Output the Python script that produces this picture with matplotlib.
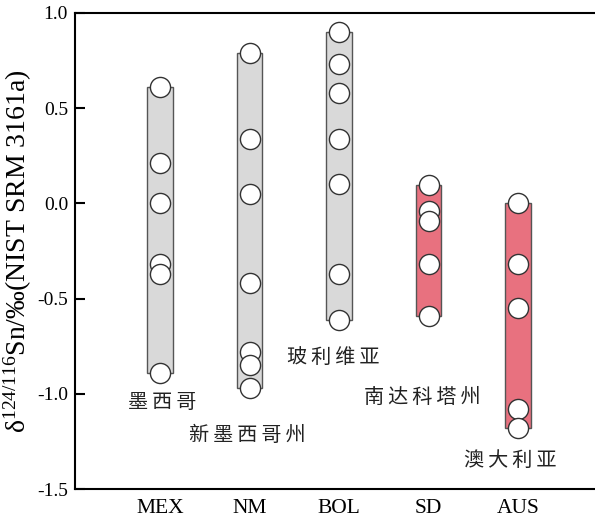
import matplotlib
matplotlib.use("Agg")
import matplotlib.pyplot as plt
import numpy as np

plt.rcParams["font.family"] = ["Liberation Serif", "DejaVu Serif"]
plt.rcParams["axes.unicode_minus"] = False

# ---- data ----
sites = ["MEX", "NM", "BOL", "SD", "AUS"]
site_names_cn = ["墨西哥", "新墨西哥州", "玻利维亚", "南达科塔州", "澳大利亚"]
mex = [0.61, 0.21, 0.00, -0.32, -0.37, -0.89]
nm = [0.79, 0.34, 0.05, -0.42, -0.78, -0.85, -0.97]
bol = [0.90, 0.73, 0.58, 0.34, 0.10, -0.37, -0.61]
sd = [0.095, -0.04, -0.09, -0.32, -0.59]
aus = [0.00, -0.32, -0.55, -1.08, -1.18]
groups = [mex, nm, bol, sd, aus]

# styling
bar_colors = ["#d9d9d9", "#d9d9d9", "#d9d9d9", "#e8717f", "#e8717f"]
# label anchor (x offset from category, y in data units)
label_dx = [0.02, -0.02, -0.06, -0.07, -0.09]
label_y = [-1.045, -1.22, -0.81, -1.02, -1.35]

fig = plt.figure(figsize=(5.95, 5.17), dpi=100)
ax = fig.add_axes([0.126, 0.054, 0.874, 0.921])

x = np.arange(1, len(sites) + 1)
for xi, vals, col in zip(x, groups, bar_colors):
    lo, hi = min(vals), max(vals)
    ax.bar(xi, hi - lo, bottom=lo, width=0.29, color=col,
           edgecolor="#555555", linewidth=1.0, zorder=2)
    ax.plot([xi] * len(vals), vals, "o", ms=14.5, mfc="white",
            mec="#333333", mew=1.0, zorder=3)

# the reference spaces out the Chinese characters a little
for xi, name, dx, ly in zip(x, site_names_cn, label_dx, label_y):
    ax.text(xi + dx, ly, "\u2009".join(name), ha="center", va="center",
            fontsize=14.5, family=["Noto Sans CJK SC", "DejaVu Sans"],
            color="#222222")

ax.set_xlim(0.05, 5.86)
ax.set_ylim(-1.5, 1.0)
yt = [-1.5, -1.0, -0.5, 0.0, 0.5, 1.0]
ax.set_yticks(yt)
ax.set_yticklabels([f"{v:.1f}" for v in yt])
ax.set_xticks(x)
ax.set_xticklabels(sites)
ax.tick_params(axis="y", direction="in", length=7, width=1.5, labelsize=14, pad=5)
ax.tick_params(axis="x", length=0, labelsize=15.5, pad=7)
ax.spines["right"].set_visible(False)
for s in ["left", "top", "bottom"]:
    ax.spines[s].set_linewidth(1.5)

ax.set_ylabel(r"$\mathregular{\delta^{124/116}}$Sn/‰(NIST SRM 3161a)",
              fontsize=20, labelpad=2)

fig.savefig("out.png", dpi=100)
